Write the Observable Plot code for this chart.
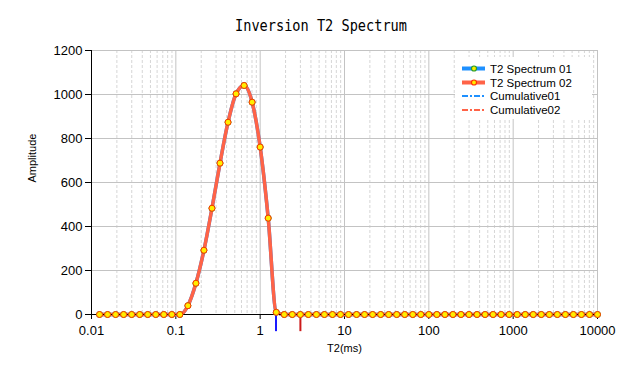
<!DOCTYPE html>
<html><head><meta charset="utf-8">
<script src="https://cdn.jsdelivr.net/npm/d3@7"></script>
<script src="https://cdn.jsdelivr.net/npm/@observablehq/plot@0.6"></script>
<style>
body{margin:0;background:#fff}
#wrap{position:relative;width:640px;height:373px;overflow:hidden}
#legend{position:absolute;left:455px;top:57px}
</style>
</head><body><div id="wrap"></div>
<script>
// ---- data ----
const titleText = "Inversion T2 Spectrum";
const xLabel = "T2(ms)";
const yLabel = "Amplitude";

const t2 = [0.01245, 0.01551, 0.01931, 0.02404, 0.02994, 0.03728, 0.04642, 0.05780, 0.07197, 0.08961,
  0.1116, 0.1390, 0.1730, 0.2154, 0.2683, 0.3340, 0.4160, 0.5179, 0.6449, 0.8031,
  1.000, 1.245, 1.551, 1.931, 2.404, 2.994, 3.728, 4.642, 5.780, 7.197, 8.961,
  11.16, 13.90, 17.30, 21.54, 26.83, 33.40, 41.60, 51.79, 64.49, 80.31,
  100.0, 124.5, 155.1, 193.1, 240.4, 299.4, 372.8, 464.2, 578.0, 719.7, 896.1,
  1116, 1390, 1730, 2154, 2683, 3341, 4160, 5179, 6449, 8031, 10000];

const amp01 = [0, 0, 0, 0, 0, 0, 0, 0, 0, 0,
  0, 40, 142, 292, 483, 688, 874, 1003, 1041, 965,
  761, 438, 10, 0, 0, 0, 0, 0, 0, 0, 0,
  0, 0, 0, 0, 0, 0, 0, 0, 0, 0,
  0, 0, 0, 0, 0, 0, 0, 0, 0, 0, 0,
  0, 0, 0, 0, 0, 0, 0, 0, 0, 0, 0];

const amp02 = [0, 0, 0, 0, 0, 0, 0, 0, 0, 0,
  0, 40, 142, 292, 483, 688, 874, 1003, 1041, 965,
  761, 438, 10, 0, 0, 0, 0, 0, 0, 0, 0,
  0, 0, 0, 0, 0, 0, 0, 0, 0, 0,
  0, 0, 0, 0, 0, 0, 0, 0, 0, 0, 0,
  0, 0, 0, 0, 0, 0, 0, 0, 0, 0, 0];

const cutoff01 = 1.54;
const cutoff02 = 3.0;

const xTicks = [0.01, 0.1, 1, 10, 100, 1000, 10000];
const yTicks = [0, 200, 400, 600, 800, 1000, 1200];

const legendNames = ["T2 Spectrum 01", "T2 Spectrum 02", "Cumulative01", "Cumulative02"];
// ---------------------------------------

const rows01 = t2.map((t, i) => ({t2: t, amp: amp01[i]}));
const rows02 = t2.map((t, i) => ({t2: t, amp: amp02[i]}));

const minorX = d3.scaleLog().domain([0.01, 10000]).ticks(20)
  .filter(v => !xTicks.some(m => Math.abs(v / m - 1) < 1e-9));

const blue = "#1E90FF", red = "#FF6347";

const chart = Plot.plot({
  width: 640, height: 373,
  marginLeft: 91, marginRight: 43, marginTop: 50, marginBottom: 59,
  style: {fontFamily: "'Liberation Sans', Arial, sans-serif", fontSize: "13px", background: "#fff", overflow: "visible", color: "#000"},
  x: {type: "log", domain: [0.01, 10000]},
  y: {domain: [0, 1200]},
  marks: [
    Plot.ruleX(minorX, {stroke: "#d6d6d6", strokeDasharray: "3,2"}),
    Plot.ruleX(xTicks.slice(1), {stroke: "#c3c3c3"}),
    Plot.ruleY(yTicks.slice(1), {stroke: "#c3c3c3"}),
    Plot.axisY({ticks: yTicks, tickSize: 6, tickPadding: 3, label: null, fontSize: 13, tickFormat: d => String(d)}),
    Plot.axisX({ticks: xTicks, tickSize: 5, tickPadding: 6, label: null, fontSize: 13, tickFormat: d => String(d)}),
    Plot.ruleX([cutoff01], {y1: 5, y2: -78, stroke: "#1a1aff", strokeWidth: 2}),
    Plot.ruleX([cutoff02], {y1: 8, y2: -78, stroke: "#cc1a1a", strokeWidth: 2}),
    Plot.line(rows01, {x: "t2", y: "amp", stroke: blue, strokeWidth: 3.5, curve: "monotone-x"}),
    Plot.line(rows02, {x: "t2", y: "amp", stroke: red, strokeWidth: 3.5, curve: "monotone-x"}),
    Plot.ruleY([0], {stroke: "#000"}),
    Plot.ruleX([0.01], {stroke: "#000"}),
    Plot.dot(rows01, {x: "t2", y: "amp", r: 3, fill: "#FFEE00", stroke: "#2a9d2a", strokeWidth: 1}),
    Plot.dot(rows02, {x: "t2", y: "amp", r: 3, fill: "#FFEE00", stroke: "#FF3300", strokeWidth: 1}),
    Plot.text([titleText], {text: d => d, frameAnchor: "top", dx: -23.5, dy: -30, fontFamily: "'DejaVu Sans Mono', monospace", fontSize: 15, fill: "#000"}),
    Plot.text([yLabel], {text: d => d, frameAnchor: "left", dx: -59, rotate: -90, fontSize: 11, fill: "#000"}),
    Plot.text([xLabel], {text: d => d, frameAnchor: "bottom", dy: 37, fontSize: 11, fill: "#000"})
  ]
});

d3.select(chart).selectAll("text")
  .filter(function() { return this.textContent === titleText; })
  .attr("textLength", 172).attr("lengthAdjust", "spacingAndGlyphs");

const wrap = document.getElementById("wrap");
wrap.appendChild(chart);

// legend
const lg = d3.select(wrap).append("svg").attr("id", "legend")
  .attr("width", 137).attr("height", 62);
lg.append("rect").attr("width", 137).attr("height", 62).attr("fill", "#fff");
const legendStyles = [
  {stroke: blue, width: 4, dash: null, dot: "#2a9d2a"},
  {stroke: red, width: 4, dash: null, dot: "#FF3300"},
  {stroke: blue, width: 2, dash: "6,2,2,2", dot: null},
  {stroke: red, width: 2, dash: "6,2,2,2", dot: null}
];
const rowY = [11.5, 25.5, 39, 53];
legendNames.forEach((name, i) => {
  const s = legendStyles[i];
  const g = lg.append("g");
  g.append("line").attr("x1", 7).attr("x2", 30).attr("y1", rowY[i]).attr("y2", rowY[i])
    .attr("stroke", s.stroke).attr("stroke-width", s.width)
    .attr("stroke-dasharray", s.dash);
  if (s.dot) g.append("circle").attr("cx", 19).attr("cy", rowY[i]).attr("r", 2.5)
    .attr("fill", "#FFEE00").attr("stroke", s.dot).attr("stroke-width", 1.2);
  g.append("text").attr("x", 35).attr("y", rowY[i] + 4)
    .attr("font-family", "'Liberation Sans', Arial, sans-serif").attr("font-size", 11.5)
    .attr("fill", "#000").text(name);
});
</script>
</body></html>
